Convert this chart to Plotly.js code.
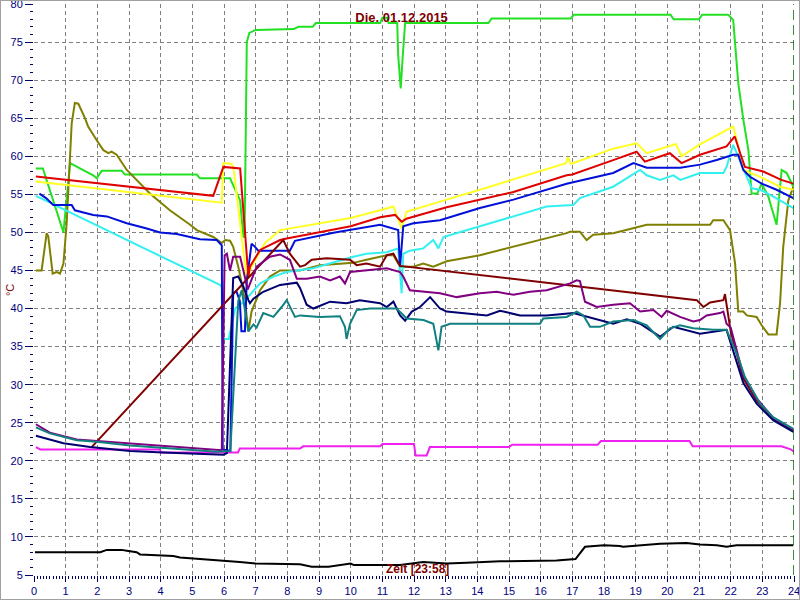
<!DOCTYPE html>
<html>
<head>
<meta charset="utf-8">
<script src="https://cdn.plot.ly/plotly-3.0.1.min.js"></script>
<style>
  html, body { margin: 0; padding: 0; background: #ffffff; }
  #chart { position: absolute; left: 0; top: 0; width: 798px; height: 598px; border: 1px solid #a0a0a0; }
</style>
</head>
<body>
<div id="chart"></div>
<script>
// ---- data (hours, °C) ----
const titleText = "Die. 01.12.2015";
const timeLabel = "Zeit [23:58]";
const unitLabel = "°C";
const xTicks = [0,1,2,3,4,5,6,7,8,9,10,11,12,13,14,15,16,17,18,19,20,21,22,23,24];
const yTicks = [5,10,15,20,25,30,35,40,45,50,55,60,65,70,75,80];
const xGridVals = [1,2,3,4,5,6,7,8,9,10,11,12,13,14,15,16,17,18,19,20,21,22,23];
const yGridVals = [10,15,20,25,30,35,40,45,50,55,60,65,70,75];

const greenX = [0.06,0.28,0.93,1.14,1.45,1.87,1.98,2.14,2.77,2.87,5.14,5.24,6.19,6.51,6.61,6.65,6.72,6.8,7.0,8.2,8.35,8.8,8.9,10.93,11.0,11.15,11.2,11.47,11.5,11.58,11.65,11.72,14.35,14.45,16.95,17.05,20.1,20.2,21.0,21.1,21.92,22.08,22.24,22.4,22.56,22.66,22.84,22.98,23.19,23.45,23.61,23.77,23.98];
const greenY = [58.4,58.4,50.0,59.1,58.4,57.5,57.1,58.1,58.1,57.6,57.6,57.1,57.1,54.2,49.4,49.4,75.0,76.2,76.6,76.7,77.0,77.0,77.5,77.5,78.2,78.2,77.5,77.5,73.3,68.9,73.5,77.5,77.5,78.1,78.1,78.6,78.6,78.0,78.0,78.6,78.6,77.9,69.6,64.8,60.8,55.1,55.1,56.4,54.7,51.0,58.2,57.8,56.0];

const redX = [0.06,5.66,5.98,6.51,6.77,6.82,7.14,7.77,7.98,9.03,10.0,10.93,11.4,11.61,11.76,13.03,14.08,15.14,16.82,17.0,18.29,19.03,19.29,20.08,20.45,21.03,21.87,22.13,22.3,22.45,23.03,23.6,23.98];
const redY = [57.35,54.8,58.6,58.4,44.2,45.5,47.7,49.0,49.2,50.0,50.8,52.0,52.3,51.4,51.8,53.3,54.3,55.3,57.5,57.6,59.5,60.6,59.3,60.4,59.1,60.2,61.3,62.6,60.4,58.6,58.0,56.9,56.4];

const yellowX = [0.06,5.93,5.98,6.24,6.3,6.72,6.87,7.29,7.77,9.03,10.0,10.93,11.35,11.61,11.76,13.03,14.08,16.8,16.86,16.95,18.29,19.03,19.35,20.27,20.45,21.0,22.08,22.24,22.4,22.93,23.56,23.98];
const yellowY = [56.7,53.9,59.1,59.0,58.5,43.7,45.5,48.6,50.3,51.2,51.9,52.9,53.4,50.5,52.7,54.3,55.6,59.1,59.9,59.0,61.0,61.7,60.4,61.6,60.0,61.5,63.9,61.3,58.2,57.3,56.0,55.6];

const blueX = [0.17,0.38,0.61,1.19,1.29,1.87,2.30,2.93,3.56,3.98,4.51,5.24,5.77,5.93,5.96,6.2,6.29,6.39,6.5,6.55,6.66,6.72,6.87,6.98,7.08,8.08,8.24,9.5,10.93,11.5,11.56,11.66,11.98,12.82,14.08,15.14,16.82,18.29,18.93,19.35,20.41,21.03,21.56,22.08,22.24,22.4,22.61,22.98,23.45,23.98];
const blueY = [55.1,54.5,53.6,53.6,52.9,52.3,52.1,51.2,50.5,50.0,49.8,49.1,49.0,48.3,21.5,21.3,42.0,42.3,41.0,37.0,37.0,43.7,48.5,48.1,47.6,47.6,48.9,50.0,51.0,50.3,45.5,50.8,51.2,51.6,53.2,54.3,56.4,57.8,59.1,58.5,58.5,58.9,59.5,60.2,60.2,58.2,57.3,56.4,55.6,54.5];

const cyanX = [0.06,5.87,5.93,5.95,6.15,6.35,6.6,6.82,7.14,7.56,7.98,8.82,9.45,10.08,10.5,11.14,11.5,11.61,11.66,11.87,12.29,12.61,12.77,12.93,14.08,15.14,16.19,17.03,17.24,18.29,19.14,19.35,19.77,20.19,20.41,21.03,21.77,21.87,22.08,22.24,22.45,22.66,22.93,23.35,23.98];
const cyanY = [54.8,43.1,42.8,36.0,36.0,40.0,40.8,41.8,43.3,44.2,44.8,45.3,46.1,46.8,47.2,47.4,47.9,42.0,47.2,47.6,47.9,49.0,47.9,49.4,50.8,52.1,53.4,53.6,54.5,56.0,58.2,57.5,56.9,57.5,56.9,57.8,57.8,58.6,61.5,60.0,57.8,55.8,55.6,54.7,53.2];

const oliveX = [0.06,0.24,0.40,0.45,0.59,0.72,0.82,0.93,1.03,1.19,1.29,1.40,1.61,1.71,1.98,2.19,2.35,2.45,2.61,2.93,3.66,4.29,4.93,5.14,5.66,5.93,6.04,6.19,6.29,6.45,6.56,6.66,6.77,6.87,7.14,7.45,7.77,8.40,9.03,10.08,10.5,11.14,11.35,11.56,11.98,12.29,12.61,13.03,14.08,15.14,15.98,16.82,16.93,17.24,17.45,17.66,18.29,19.14,19.35,21.35,21.45,21.77,21.98,22.14,22.24,22.40,22.51,22.82,22.98,23.19,23.45,23.56,23.66,23.82,23.98];
const oliveY = [45.0,45.0,49.9,49.5,44.6,44.8,44.6,45.9,51.1,64.3,67.0,66.9,65.0,63.9,62.1,60.8,60.4,60.6,60.2,58.2,55.1,52.9,51.0,50.3,49.4,48.6,49.0,48.9,48.1,45.5,43.3,41.1,37.0,39.6,42.4,44.2,45.0,45.0,45.7,46.0,46.4,47.0,47.0,45.5,45.5,45.9,45.5,46.2,47.0,48.1,49.0,49.9,50.1,50.1,49.0,49.7,49.9,50.8,51.0,51.0,51.6,51.6,50.3,45.9,39.6,39.6,39.1,38.9,37.8,36.6,36.6,40.7,48.1,54.2,56.0];

const maroonX = [1.82,7.87,8.08,8.4,8.56,8.77,9.24,9.98,10.19,10.5,10.93,11.14,11.35,11.56,20.93,21.14,21.35,21.77,21.82,21.93,22.0,22.4,22.82,23.35,23.98];
const maroonY = [21.8,49.0,47.2,45.5,45.7,46.4,46.6,46.4,45.7,45.9,45.5,47.0,47.2,45.6,41.1,40.2,40.8,41.1,41.9,38.9,37.0,30.8,27.9,25.5,24.0];

const purpleX = [0.06,0.5,1.35,1.98,3.03,4.93,5.77,5.93,6.02,6.09,6.19,6.29,6.51,6.66,6.75,7.03,7.45,7.77,8.08,8.30,8.61,9.03,9.35,9.66,9.82,9.98,10.71,11.14,11.56,11.66,11.87,12.82,13.35,14.08,14.61,15.14,15.66,16.19,16.93,17.14,17.24,17.40,17.77,18.29,18.82,19.14,19.56,19.82,19.98,20.4,20.82,21.03,21.24,21.66,21.77,21.87,22.0,22.4,22.82,23.35,23.98];
const purpleY = [24.8,23.7,22.8,22.6,22.3,21.7,21.4,21.4,47.0,47.2,45.0,46.8,46.8,44.2,42.5,45.5,46.8,47.1,46.4,43.9,43.9,44.2,43.7,44.2,43.3,44.8,45.1,45.3,44.8,44.2,42.4,42.0,41.5,42.0,42.2,41.8,42.2,42.4,43.3,43.7,43.6,40.9,40.2,40.5,40.7,39.6,39.8,38.9,39.7,38.9,38.3,38.5,39.1,39.4,39.6,38.0,37.5,31.2,28.2,25.6,24.1];

const navyX = [0.06,0.93,1.77,3.03,4.08,5.14,5.98,6.09,6.29,6.45,6.6,6.77,6.82,6.93,7.24,7.77,8.30,8.40,8.61,8.82,9.35,9.87,10.29,10.93,11.14,11.35,11.56,11.72,11.93,12.19,12.51,12.82,13.03,14.3,14.72,15.35,16.19,17.03,17.45,18.29,18.72,19.14,19.77,20.19,21.03,21.87,22.4,22.82,23.35,23.98];
const navyY = [23.3,22.3,21.8,21.3,21.1,20.9,20.8,21.0,44.0,44.2,43.0,41.1,40.7,41.3,42.2,43.1,43.4,42.7,40.5,40.0,40.9,40.7,41.1,40.7,40.2,40.9,39.1,38.4,39.6,40.2,41.5,40.0,39.6,39.1,39.7,39.1,39.1,39.4,38.9,38.0,38.6,38.0,36.3,37.6,36.7,37.2,30.2,27.5,25.3,23.8];

const tealX = [0.06,0.5,1.35,1.98,3.03,4.93,5.77,6.2,6.45,6.56,6.66,6.77,6.93,7.03,7.24,7.56,7.82,7.98,8.24,8.4,9.03,9.45,9.66,9.82,9.87,9.98,10.19,10.61,11.14,11.45,11.77,12.3,12.61,12.77,12.87,13.14,15.98,16.08,16.82,17.14,17.35,17.56,17.87,18.29,18.93,19.35,19.77,20.08,20.4,20.82,21.45,21.87,22.24,22.45,22.93,23.35,23.98];
const tealY = [24.4,23.6,22.7,22.5,22.0,21.5,21.2,21.3,41.0,42.4,40.0,37.0,37.9,37.5,39.4,38.9,40.2,41.1,38.9,39.1,38.9,39.0,39.0,37.6,36.0,38.0,39.8,40.0,40.0,40.0,38.7,38.5,38.0,34.5,37.6,38.0,38.0,38.7,38.9,39.6,39.1,37.6,37.6,38.3,38.5,37.8,36.0,37.4,37.8,37.4,37.2,37.2,33.6,31.0,27.5,25.7,24.2];

const magentaX = [0.06,0.2,3.98,4.0,6.44,6.5,8.4,8.5,10.93,11.0,12.0,12.05,12.4,12.5,15.0,15.1,17.8,17.9,20.7,20.8,23.6,23.9,24.0];
const magentaY = [21.8,21.5,21.5,21.1,21.1,21.6,21.6,21.9,21.9,22.2,22.2,20.7,20.7,21.8,21.8,22.1,22.1,22.6,22.6,21.9,21.9,21.5,21.2];

const blackX = [0.03,2.09,2.3,2.77,2.93,3.24,3.35,3.98,4.4,4.61,4.98,5.24,6.0,6.5,7.0,8.4,8.77,9.3,10.0,10.1,11.03,11.56,12.29,13.03,13.66,14.4,14.72,16.5,17.0,17.1,17.4,18.0,18.5,18.6,19.77,20.61,21.03,21.56,21.87,22.19,23.98];
const blackY = [8.0,8.0,8.3,8.3,8.2,8.0,7.7,7.6,7.5,7.3,7.2,7.1,6.9,6.7,6.5,6.4,6.1,6.1,6.5,6.3,6.3,6.3,6.7,6.5,6.6,6.8,6.8,6.9,7.0,7.1,8.7,8.9,8.8,8.7,9.1,9.2,9.0,8.9,8.7,8.9,8.9];

const nowHour = 24;

// ---- traces ----
function series(x, y, color) {
  return { x: x, y: y, type: 'scatter', mode: 'lines', line: { color: color, width: 2 }, hoverinfo: 'skip', cliponaxis: true };
}
const traces = [
  { x: [null], y: [null], xaxis: 'x2', yaxis: 'y2', type: 'scatter', mode: 'lines', hoverinfo: 'skip' },
  series(blackX, blackY, '#000000'),
  series(magentaX, magentaY, '#f020f0'),
  series(greenX, greenY, '#22e022'),
  series(oliveX, oliveY, '#808000'),
  series(cyanX, cyanY, '#33f0f0'),
  series(yellowX, yellowY, '#ffff22'),
  series(blueX, blueY, '#0010d8'),
  series(redX, redY, '#e00000'),
  series(maroonX, maroonY, '#800000'),
  series(purpleX, purpleY, '#800080'),
  series(navyX, navyY, '#000070'),
  series(tealX, tealY, '#108080')
];

const fontFam = 'Liberation Sans, Arial, sans-serif';
const tickFont = { family: fontFam, size: 11, color: '#000080' };
const gridStyle = { showgrid: true, gridcolor: '#808080', griddash: '4px,3px', gridwidth: 1 };
const layout = {
  width: 798, height: 598,
  margin: { l: 33, r: 5, t: 3, b: 24, pad: 0 },
  paper_bgcolor: '#ffffff', plot_bgcolor: '#ffffff',
  showlegend: false,
  title: { text: titleText, x: 0.502, xref: 'container', xanchor: 'center', y: 1 - 16/598, yref: 'container', yanchor: 'middle',
           font: { family: fontFam, size: 13, color: '#800000', weight: 'bold' } },
  xaxis: {
    range: [0, 24], tickvals: xTicks, ticktext: xTicks.map(String),
    ticks: 'outside', ticklen: 6, tickwidth: 1, tickcolor: '#000060', ticklabeloverflow: 'allow',
    tickfont: tickFont, showgrid: false,
    zeroline: false, showline: false, fixedrange: true,
    minor: { dtick: 0.1, ticks: 'outside', ticklen: 3, tickwidth: 1, tickcolor: '#000060', showgrid: false }
  },
  yaxis: {
    range: [5, 80], tickvals: yTicks, ticktext: yTicks.map(String),
    ticks: 'outside', ticklen: 8, tickwidth: 1, tickcolor: '#000060', ticklabeloverflow: 'allow',
    tickfont: tickFont, showgrid: false,
    zeroline: false, showline: false, fixedrange: true,
    minor: { dtick: 1, ticks: 'outside', ticklen: 3, tickwidth: 1, tickcolor: '#000060', showgrid: false }
  },
  xaxis2: Object.assign({ overlaying: 'x', range: [0, 24], tickvals: xGridVals, showticklabels: false, ticks: '',
    zeroline: false, showline: false, fixedrange: true }, gridStyle),
  yaxis2: Object.assign({ overlaying: 'y', range: [5, 80], tickvals: yGridVals, showticklabels: false, ticks: '',
    zeroline: false, showline: false, fixedrange: true }, gridStyle),
  shapes: [
    { type: 'line', xref: 'x', yref: 'paper', x0: nowHour, x1: nowHour, y0: 0, y1: 1,
      line: { color: '#006400', width: 1.5, dash: '10px,5px' } }
  ],
  annotations: [
    { text: timeLabel, xref: 'paper', yref: 'paper', x: 0.505, y: 0.0105, xanchor: 'center', yanchor: 'middle', showarrow: false,
      font: { family: fontFam, size: 12, color: '#800000', weight: 'bold' } },
    { text: unitLabel, xref: 'paper', yref: 'paper', x: -0.0316, y: 0.499, xanchor: 'center', yanchor: 'middle', showarrow: false,
      textangle: -90, font: { family: fontFam, size: 11, color: '#800000' } }
  ]
};
Plotly.newPlot('chart', traces, layout, { staticPlot: true, displayModeBar: false });
</script>
</body>
</html>
